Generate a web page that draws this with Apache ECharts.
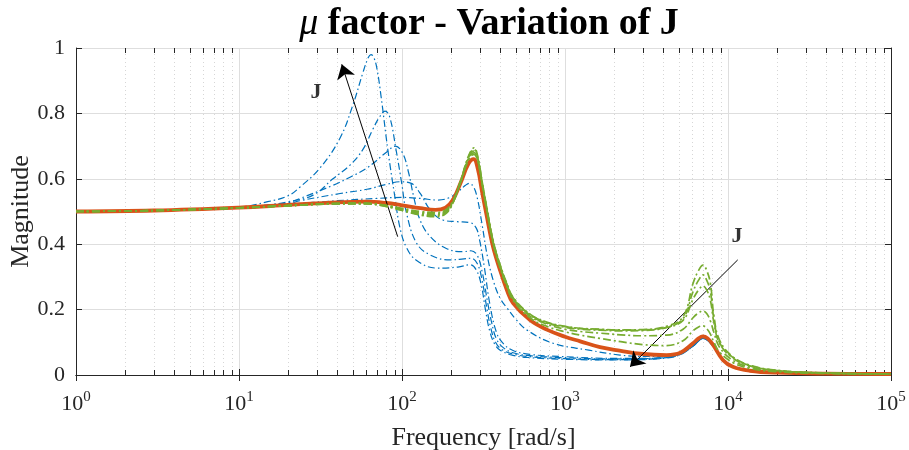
<!DOCTYPE html>
<html>
<head>
<meta charset="utf-8">
<script src="https://cdn.jsdelivr.net/npm/echarts@6/dist/echarts.min.js"></script>
<style>
  html, body { margin: 0; padding: 0; background: #ffffff; }
  #chart { width: 909px; height: 450px; }
</style>
</head>
<body>
<div id="chart"></div>
<script>
// Frequency response magnitude of the mu factor for a sweep of the inertia J.
// Each curve is a list of [frequency (rad/s), magnitude] pairs.

const decadeExponents = [0, 1, 2, 3, 4, 5];
const minorMultipliers = [2, 3, 4, 5, 6, 7, 8, 9];
const yTicks = [0, 0.2, 0.4, 0.6, 0.8, 1];

// Blue family (J above nominal), largest J first
const blue1 = [[1,0.5],[5,0.506],[10,0.513],[15,0.53],[20,0.548],[23.7,0.575],[31.4,0.633],[41.7,0.725],[50,0.826],[57.6,0.925],[62,0.97],[64.5,0.98],[67,0.972],[70,0.94],[74.5,0.85],[81.8,0.69],[90.4,0.545],[97.2,0.45],[106.5,0.39],[123,0.35],[163,0.327],[220,0.33],[262,0.337],[285,0.322],[305,0.28],[325,0.2],[345,0.135],[370,0.095],[400,0.076],[480,0.06],[610,0.053],[1000,0.048],[2000,0.046],[3000,0.047],[4200,0.052],[5100,0.062],[6100,0.088],[6600,0.104],[7000,0.112],[7500,0.106],[8100,0.088],[9300,0.046],[10700,0.025],[13600,0.013],[20000,0.007],[40000,0.004],[100000,0.003]];
const blue2 = [[1,0.5],[5,0.505],[10,0.511],[15,0.52],[20,0.53],[28.5,0.55],[37.7,0.6],[48,0.642],[57.6,0.69],[66,0.75],[73,0.79],[78.7,0.807],[84,0.79],[92,0.688],[99.6,0.586],[106.7,0.494],[123,0.403],[149,0.367],[197,0.352],[240,0.355],[265,0.357],[290,0.34],[310,0.29],[330,0.21],[350,0.145],[375,0.1],[410,0.078],[480,0.064],[610,0.056],[1000,0.05],[2000,0.047],[3000,0.048],[4200,0.053],[5100,0.063],[6100,0.088],[6600,0.104],[7000,0.112],[7500,0.106],[8100,0.088],[9300,0.046],[10700,0.025],[13600,0.013],[20000,0.007],[40000,0.004],[100000,0.003]];
const blue3 = [[1,0.5],[5,0.505],[10,0.511],[20,0.527],[23.7,0.54],[37.7,0.58],[48,0.605],[61,0.633],[81,0.683],[91,0.7],[101,0.678],[110,0.617],[118,0.545],[129,0.474],[149,0.423],[187,0.387],[236,0.377],[265,0.38],[290,0.365],[312,0.31],[333,0.23],[355,0.16],[380,0.11],[420,0.083],[480,0.068],[610,0.059],[1000,0.053],[2000,0.049],[3000,0.05],[4200,0.054],[5100,0.064],[6100,0.089],[6600,0.105],[7000,0.112],[7500,0.106],[8100,0.088],[9300,0.046],[10700,0.025],[13600,0.013],[20000,0.007],[40000,0.004],[100000,0.003]];
const blue4 = [[1,0.5],[5,0.505],[10,0.511],[20,0.524],[23.7,0.533],[41.7,0.555],[61,0.568],[79,0.582],[97,0.591],[114,0.586],[129,0.556],[149,0.505],[178,0.474],[217,0.469],[261,0.466],[285,0.45],[300,0.41],[320,0.33],[345,0.22],[380,0.13],[420,0.095],[480,0.075],[610,0.063],[1000,0.056],[2000,0.051],[3000,0.051],[4200,0.055],[5100,0.065],[6100,0.09],[6600,0.105],[7000,0.112],[7500,0.106],[8100,0.088],[9300,0.046],[10700,0.025],[13600,0.013],[20000,0.007],[40000,0.004],[100000,0.003]];
const blue5 = [[1,0.5],[5,0.505],[10,0.511],[20,0.522],[40,0.533],[70,0.54],[100,0.543],[130,0.54],[165,0.535],[195,0.542],[220,0.56],[245,0.58],[258,0.586],[275,0.575],[290,0.54],[310,0.46],[335,0.36],[365,0.285],[400,0.235],[441,0.205],[500,0.17],[582,0.138],[846,0.097],[1400,0.076],[2175,0.061],[3000,0.057],[4200,0.058],[5100,0.066],[6100,0.09],[6600,0.105],[7000,0.112],[7500,0.106],[8100,0.088],[9300,0.046],[10700,0.025],[13600,0.013],[20000,0.007],[40000,0.004],[100000,0.003]];

// Nominal J
const nominal = [[1,0.5],[3,0.503],[10,0.512],[20,0.52],[40,0.528],[60,0.53],[80,0.526],[100,0.519],[130,0.51],[160,0.505],[185,0.512],[205,0.535],[230,0.59],[255,0.645],[275,0.66],[292,0.63],[310,0.56],[330,0.49],[362,0.392],[400,0.32],[440,0.26],[480,0.22],[610,0.168],[780,0.138],[1000,0.117],[1240,0.103],[1640,0.085],[2200,0.074],[2900,0.065],[4200,0.061],[5100,0.068],[6100,0.097],[6600,0.112],[7000,0.118],[7500,0.112],[8100,0.092],[9300,0.046],[10700,0.025],[13600,0.013],[20000,0.007],[40000,0.004],[100000,0.003]];

// Green family (J below nominal)
const green1 = [[1,0.5],[3,0.503],[10,0.511],[20,0.518],[40,0.524],[60,0.524],[80,0.515],[100,0.503],[130,0.489],[160,0.484],[185,0.493],[205,0.525],[230,0.597],[255,0.668],[277,0.695],[292,0.667],[310,0.592],[330,0.517],[362,0.412],[400,0.337],[440,0.28],[480,0.238],[610,0.186],[780,0.161],[1000,0.149],[1240,0.143],[1640,0.14],[2200,0.138],[3000,0.139],[4200,0.149],[5300,0.178],[6100,0.28],[6600,0.32],[7030,0.336],[7400,0.32],[7800,0.28],[8200,0.18],[8870,0.107],[10700,0.056],[13600,0.03],[19500,0.015],[40000,0.006],[100000,0.003]];
const green2 = [[1,0.5],[3,0.503],[10,0.511],[20,0.518],[40,0.524],[60,0.524],[80,0.516],[100,0.504],[130,0.491],[160,0.488],[185,0.496],[205,0.526],[230,0.596],[255,0.665],[277,0.69],[292,0.663],[310,0.59],[330,0.515],[362,0.41],[400,0.335],[440,0.278],[480,0.236],[610,0.185],[780,0.16],[1000,0.148],[1240,0.142],[1640,0.139],[2200,0.137],[3000,0.138],[4200,0.146],[5300,0.172],[6100,0.255],[6600,0.29],[7030,0.306],[7400,0.29],[7800,0.255],[8200,0.17],[8870,0.1],[10700,0.054],[13600,0.029],[19500,0.014],[40000,0.006],[100000,0.003]];
const green3 = [[1,0.5],[3,0.503],[10,0.511],[20,0.518],[40,0.524],[60,0.524],[80,0.517],[100,0.506],[130,0.494],[160,0.491],[185,0.499],[205,0.528],[230,0.595],[255,0.662],[277,0.685],[292,0.66],[310,0.588],[330,0.513],[362,0.408],[400,0.333],[440,0.276],[480,0.235],[610,0.183],[780,0.158],[1000,0.146],[1240,0.14],[1640,0.137],[2200,0.135],[3000,0.136],[4200,0.145],[5300,0.167],[6100,0.232],[6600,0.26],[7030,0.272],[7400,0.26],[7800,0.228],[8200,0.16],[8870,0.097],[10700,0.052],[13600,0.028],[19500,0.014],[40000,0.006],[100000,0.003]];
const green4 = [[1,0.5],[3,0.503],[10,0.511],[20,0.518],[40,0.524],[60,0.525],[80,0.518],[100,0.508],[130,0.497],[160,0.494],[185,0.502],[205,0.53],[230,0.594],[255,0.659],[277,0.68],[292,0.656],[310,0.585],[330,0.51],[362,0.405],[400,0.33],[440,0.274],[480,0.232],[610,0.18],[780,0.155],[1000,0.14],[1240,0.133],[1640,0.128],[2200,0.123],[3000,0.12],[4200,0.122],[5300,0.14],[6100,0.175],[6600,0.19],[7030,0.196],[7400,0.188],[7800,0.165],[8200,0.13],[8870,0.085],[10700,0.045],[13600,0.024],[19500,0.012],[40000,0.005],[100000,0.003]];
const green5 = [[1,0.5],[3,0.503],[10,0.511],[20,0.518],[40,0.524],[60,0.525],[80,0.519],[100,0.51],[130,0.5],[160,0.497],[185,0.505],[205,0.532],[230,0.593],[255,0.656],[277,0.675],[292,0.652],[310,0.582],[330,0.507],[362,0.402],[400,0.327],[440,0.27],[480,0.228],[610,0.175],[780,0.148],[1000,0.132],[1240,0.122],[1640,0.112],[2200,0.102],[3000,0.093],[4200,0.09],[5300,0.105],[6100,0.135],[6600,0.147],[7030,0.15],[7400,0.142],[7800,0.125],[8200,0.1],[8870,0.07],[10700,0.038],[13600,0.02],[19500,0.01],[40000,0.005],[100000,0.003]];

// Direction-of-increasing-J annotations: [from, to] in data coordinates
const arrowLow = [[94.1, 0.423], [42.7, 0.95]];
const arrowHigh = [[11470, 0.352], [2505, 0.025]];
const arrowLabels = [[29.7, 0.866, 'J'], [11350, 0.423, 'J']];

const minorFreqs = [];
decadeExponents.slice(0, -1).forEach(function (e) {
  minorMultipliers.forEach(function (m) { minorFreqs.push([m * Math.pow(10, e)]); });
});

const INK = '#262626';
const SERIF = '"Liberation Serif", "Times New Roman", serif';
const BLUE = '#0072BD', ORANGE = '#D95319', GREEN = '#77AC30';

function curve(name, data, color, width, dashed, z) {
  return {
    name: name, type: 'line', data: data, xAxisIndex: 0, yAxisIndex: 0,
    showSymbol: false, symbol: 'none', smooth: 0.4,
    z: z, silent: true,
    lineStyle: { color: color, width: width, type: dashed ? dashed : 'solid', cap: 'butt', join: 'round' }
  };
}

const chart = echarts.init(document.getElementById('chart'), null, { renderer: 'canvas' });

const option = {
  animation: false,
  backgroundColor: '#ffffff',
  title: {
    text: '{mu|\u03BC} factor - Variation of J',
    left: 484, top: 0, textAlign: 'center',
    textStyle: {
      fontFamily: SERIF, fontWeight: 'bold', fontSize: 38, color: '#000000',
      rich: { mu: { fontFamily: SERIF, fontStyle: 'italic', fontWeight: 'normal', fontSize: 38, color: '#000000' } }
    }
  },
  grid: { left: 76, right: 18, top: 48, bottom: 75, containLabel: false, outerBoundsMode: 'none' },
  xAxis: [{
    type: 'log', logBase: 10, min: 1, max: 100000, position: 'bottom',
    name: 'Frequency [rad/s]', nameLocation: 'middle', nameGap: 50, nameMoveOverlap: false,
    nameTextStyle: { fontFamily: SERIF, fontSize: 26, color: INK },
    axisLine: { show: true, lineStyle: { color: INK, width: 1 } },
    axisTick: { show: true, inside: true, length: 6, lineStyle: { color: INK } },
    splitLine: { show: true, lineStyle: { color: '#dedede', width: 1 } },
    axisLabel: {
      margin: 15, color: INK, fontFamily: SERIF, fontSize: 22,
      formatter: function (v) { return '{b|10}{s|' + Math.round(Math.log10(v)) + '}'; },
      rich: {
        b: { fontFamily: SERIF, fontSize: 22, color: INK },
        s: { fontFamily: SERIF, fontSize: 15, color: INK, padding: [0, 0, 14, 0] }
      }
    }
  }, {
    type: 'log', logBase: 10, min: 1, max: 100000, position: 'top',
    axisLine: { show: true, lineStyle: { color: INK, width: 1 } },
    axisTick: { show: true, inside: true, length: 6, lineStyle: { color: INK } },
    axisLabel: { show: false }, splitLine: { show: false }
  }],
  yAxis: [{
    type: 'value', min: yTicks[0], max: yTicks[yTicks.length - 1], interval: 0.2, position: 'left',
    name: 'Magnitude', nameLocation: 'middle', nameGap: 42, nameRotate: 90, nameMoveOverlap: false,
    nameTextStyle: { fontFamily: SERIF, fontSize: 26, color: INK },
    axisLine: { show: true, lineStyle: { color: INK, width: 1 } },
    axisTick: { show: true, inside: true, length: 6, lineStyle: { color: INK } },
    splitLine: { show: true, lineStyle: { color: '#dedede', width: 1 } },
    axisLabel: { margin: 11, color: INK, fontFamily: SERIF, fontSize: 22,
      formatter: function (v) { return String(Math.round(v * 10) / 10); } }
  }, {
    type: 'value', min: yTicks[0], max: yTicks[yTicks.length - 1], interval: 0.2, position: 'right',
    axisLine: { show: true, lineStyle: { color: INK, width: 1 } },
    axisTick: { show: true, inside: true, length: 6, lineStyle: { color: INK } },
    axisLabel: { show: false }, splitLine: { show: false }
  }],
  series: [
    {
      name: 'minor', type: 'custom', data: minorFreqs, xAxisIndex: 0, yAxisIndex: 0,
      encode: { x: 0 }, silent: true, z: 1, clip: false,
      renderItem: function (params, api) {
        const f = api.value(0);
        const b = api.coord([f, 0]);
        const t = api.coord([f, 1]);
        const x = Math.round(b[0]) + 0.5;
        return {
          type: 'group', children: [
            { type: 'line', shape: { x1: x, y1: b[1], x2: x, y2: t[1] },
              style: { stroke: '#d6d6d6', lineWidth: 1, lineDash: [1, 3] } },
            { type: 'line', shape: { x1: x, y1: b[1], x2: x, y2: b[1] - 5 },
              style: { stroke: INK, lineWidth: 1 } },
            { type: 'line', shape: { x1: x, y1: t[1], x2: x, y2: t[1] + 5 },
              style: { stroke: INK, lineWidth: 1 } }
          ]
        };
      }
    },
    curve('J1', blue1, BLUE, 1.2, [7, 3, 1.5, 3], 3),
    curve('J2', blue2, BLUE, 1.2, [7, 3, 1.5, 3], 3),
    curve('J3', blue3, BLUE, 1.2, [7, 3, 1.5, 3], 3),
    curve('J4', blue4, BLUE, 1.2, [7, 3, 1.5, 3], 3),
    curve('J5', blue5, BLUE, 1.2, [7, 3, 1.5, 3], 3),
    curve('nominal', nominal, ORANGE, 3.8, null, 4),
    curve('J7', green1, GREEN, 1.7, [8, 3, 2, 3], 5),
    curve('J8', green2, GREEN, 1.7, [8, 3, 2, 3], 5),
    curve('J9', green3, GREEN, 1.7, [8, 3, 2, 3], 5),
    curve('J10', green4, GREEN, 1.7, [8, 3, 2, 3], 5),
    curve('J11', green5, GREEN, 1.7, [8, 3, 2, 3], 5),
    {
      name: 'annotations', type: 'scatter', xAxisIndex: 0, yAxisIndex: 0, z: 10, silent: true,
      symbolSize: 0,
      data: arrowLabels.map(function (a) { return { value: [a[0], a[1]], label: { formatter: a[2] } }; }),
      label: { show: true, position: 'inside', fontFamily: SERIF, fontWeight: 'bold', fontSize: 22, color: '#000000' },
      markLine: {
        silent: true, symbol: ['none', 'arrow'], symbolSize: 14,
        label: { show: false },
        lineStyle: { color: '#000000', width: 1, type: 'solid' },
        data: [
          [{ coord: arrowLow[0] }, { coord: arrowLow[1] }],
          [{ coord: arrowHigh[0] }, { coord: arrowHigh[1] }]
        ]
      }
    }
  ]
};

chart.setOption(option);
</script>
</body>
</html>
